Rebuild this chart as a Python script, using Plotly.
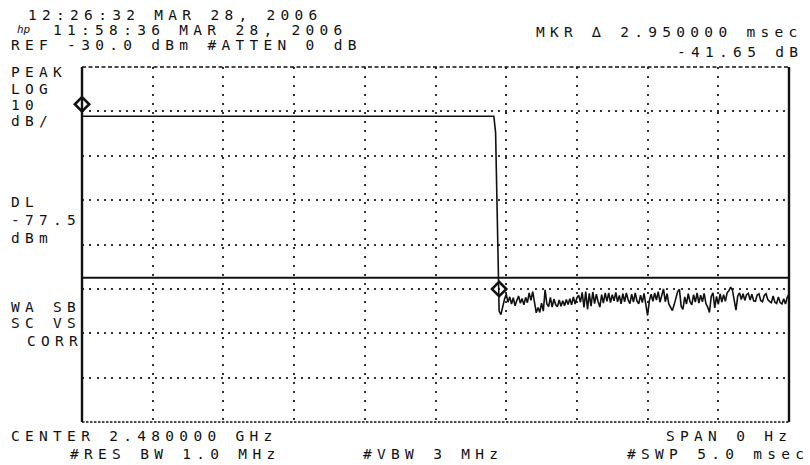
import plotly.graph_objects as go

sweep_ms = 5.0            # #SWP 5.0 msec, zero span
sweep_points = 401
ref_level_dbm = -30.0     # REF -30.0 dBm
db_per_div = 10.0         # LOG 10 dB/
n_vdiv = 8
n_hdiv = 10

on_level_dbm = -41.1      # carrier level before switch-off
on_points = 234           # sweep points while the carrier is on
edge_dbm = [-44.8, -66.7, -85.0]   # falling edge samples
noise_dbm = [
    -85.8, -84.0, -82.4, -81.2, -83.0, -81.8, -83.4, -82.0, -83.8, -82.6,
    -81.6, -83.2, -82.2, -83.6, -81.9, -83.1, -80.9, -82.6, -80.6, -83.0,
    -85.4, -84.2, -85.3, -83.2, -85.0, -80.2, -83.4, -84.0, -81.9, -84.1,
    -82.3, -83.6, -84.0, -82.5, -83.9, -82.7, -83.8, -82.4, -83.5, -82.2,
    -83.6, -81.8, -83.4, -82.0, -81.4, -83.0, -80.8, -84.2, -80.6, -84.6,
    -81.0, -83.9, -80.7, -83.3, -81.2, -82.9, -84.1, -81.3, -83.2, -80.9,
    -82.8, -80.9, -83.1, -81.3, -82.7, -80.8, -82.9, -81.5, -83.4, -81.1,
    -82.9, -80.9, -82.5, -83.3, -81.2, -83.0, -80.9, -82.7, -83.4, -81.4,
    -83.1, -81.0, -83.6, -86.0, -82.6, -81.2, -82.8, -80.9, -82.5, -80.6,
    -83.0, -81.3, -80.0, -82.9, -81.1, -83.4, -84.2, -84.9, -83.6, -81.7,
    -80.6, -80.1, -83.9, -84.6, -81.8, -83.4, -81.1, -82.9, -83.6, -81.3,
    -83.0, -80.9, -83.2, -81.4, -82.9, -81.0, -83.3, -84.1, -85.3, -81.7,
    -80.9, -84.3, -81.7, -83.5, -81.1, -83.0, -81.3, -82.8, -80.9, -80.4,
    -79.6, -80.3, -82.8, -84.8, -81.6, -80.9, -82.4, -81.1, -82.6, -81.3,
    -81.0, -82.5, -81.2, -82.7, -82.8, -81.4, -81.1, -82.6, -82.9, -81.5,
    -81.1, -82.4, -82.8, -83.1, -81.6, -83.0, -83.3, -81.8, -83.1, -83.4,
    -82.2, -83.4, -81.9, -81.2,
]
display_line_dbm = -77.5  # DL -77.5 dBm
marker_ms = [0.0, 2.95]   # reference marker and delta marker (MKR delta 2.950000 msec)
marker_dbm = [-41.10, -82.75]  # delta = -41.65 dB

header_left = ["12:26:32 MAR 28, 2006", "11:58:36 MAR 28, 2006", "REF -30.0 dBm #ATTEN 0 dB"]
header_right = ["MKR \u2206 2.950000 msec", "-41.65 dB"]
side_top = ["PEAK", "LOG", "10", "dB/"]
side_mid = ["DL", "-77.5", "dBm"]
side_low = ["WA SB", "SC VS", "CORR"]
footer = ["CENTER 2.480000 GHz", "SPAN 0 Hz", "#RES BW 1.0 MHz", "#VBW 3 MHz", "#SWP 5.0 msec"]

# ---------------- build ----------------
trace_dbm = [on_level_dbm] * on_points + edge_dbm + noise_dbm
dt = sweep_ms / (sweep_points - 1)
trace_ms = [i * dt for i in range(len(trace_dbm))]
bottom_dbm = ref_level_dbm - n_vdiv * db_per_div
x_grid = [sweep_ms * k / n_hdiv for k in range(1, n_hdiv)]
y_grid = [ref_level_dbm - db_per_div * k for k in range(1, n_vdiv)]

W, H = 810, 465
ML, MR, MT, MB = 82, 21, 67, 43
PW, PH = W - ML - MR, H - MT - MB
INK = "#111111"
FONT = "DejaVu Sans Mono"
FS = 14.5    # font size
SP = 5.3     # letter spacing in px

marker_offset_db = 2.7  # diamond drawn slightly above trace point

fig = go.Figure()
fig.add_trace(go.Scatter(
    x=trace_ms, y=trace_dbm, mode="lines",
    line=dict(color=INK, width=1.6), hoverinfo="skip", showlegend=False))
fig.add_trace(go.Scatter(
    x=marker_ms, y=[v + marker_offset_db for v in marker_dbm], mode="markers",
    marker=dict(symbol="diamond-open", size=11, line=dict(color=INK, width=2.6), color=INK),
    cliponaxis=False, hoverinfo="skip", showlegend=False))

shapes = [
    # display line
    dict(type="line", xref="x domain", yref="y", x0=0, x1=1, y0=display_line_dbm, y1=display_line_dbm,
         line=dict(color=INK, width=2)),
    # frame
    dict(type="line", xref="x domain", yref="y domain", x0=0, x1=0, y0=0, y1=1, line=dict(color=INK, width=2.4)),
    dict(type="line", xref="x domain", yref="y domain", x0=1, x1=1, y0=0, y1=1, line=dict(color=INK, width=2.4)),
    dict(type="line", xref="x domain", yref="y domain", x0=0, x1=1, y0=1, y1=1,
         line=dict(color=INK, width=1.6, dash="4px,2.5px")),
    dict(type="line", xref="x domain", yref="y domain", x0=0, x1=1, y0=0, y1=0,
         line=dict(color=INK, width=1.6, dash="2.5px,1.5px")),
]

annotations = []


def label(text, px, py, anchor="left", size=FS, sp=SP, italic=False):
    x = (px - ML + (sp if anchor == "right" else 0)) / PW
    y = (MT + PH - py) / PH
    t = f'<span style="letter-spacing:{sp}px">{text}</span>'
    if italic:
        t = f"<i>{t}</i>"
    annotations.append(dict(
        text=t, x=x, y=y, xref="paper", yref="paper", xanchor=anchor, yanchor="middle",
        showarrow=False, borderpad=0, borderwidth=0,
        font=dict(family=FONT, size=size, color=INK)))


label(header_left[0], 28, 15.5)
label("hp", 17, 30, size=11, sp=0, italic=True)
label(header_left[1], 53, 30)
label(header_left[2], 11, 44.7)
label(header_right[0], 798, 32, anchor="right")
label(header_right[1], 798, 52, anchor="right")

for txt, yy in zip(side_top, [72, 88.7, 105, 121]):
    label(txt, 11, yy)
for txt, yy in zip(side_mid, [201.7, 220.3, 238.3]):
    label(txt, 11, yy)
label(side_low[0], 11, 306.7)
label(side_low[1], 11, 323)
label(side_low[2], 78, 341, anchor="right")

label(footer[0], 11, 436)
label(footer[1], 787, 436, anchor="right")
label(footer[2], 70, 453.5)
label(footer[3], 363, 453.5)
label(footer[4], 804, 453.5, anchor="right")

fig.update_layout(
    width=W, height=H,
    margin=dict(l=ML, r=MR, t=MT, b=MB, pad=0),
    paper_bgcolor="white", plot_bgcolor="white",
    shapes=shapes, annotations=annotations,
    xaxis=dict(range=[0, sweep_ms], tickvals=x_grid, showticklabels=False, ticks="",
               showgrid=True, gridcolor="#333333", gridwidth=1.6, griddash="2px,7px",
               zeroline=False, showline=False, fixedrange=True),
    yaxis=dict(range=[bottom_dbm, ref_level_dbm], tickvals=y_grid, showticklabels=False, ticks="",
               showgrid=True, gridcolor="#333333", gridwidth=1.6, griddash="2px,5.3px",
               zeroline=False, showline=False, fixedrange=True),
)

fig.write_html("out.html", config={"displayModeBar": False},
               post_script="document.body.style.margin='0px';document.body.style.padding='0px';")
